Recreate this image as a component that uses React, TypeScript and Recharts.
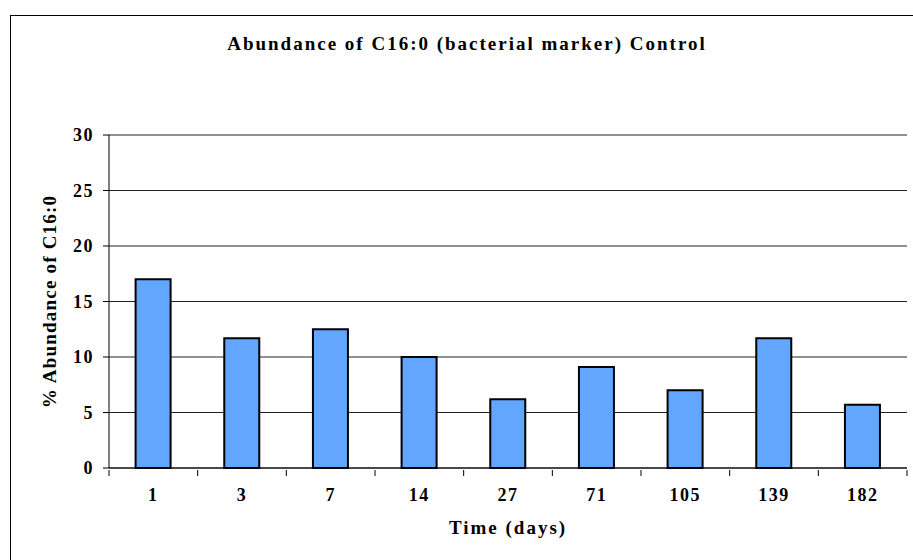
import { BarChart, Bar, XAxis, YAxis, CartesianGrid, Label } from "recharts"

const days = ["1", "3", "7", "14", "27", "71", "105", "139", "182"]
const abundance = [17.0, 11.7, 12.5, 10.0, 6.2, 9.1, 7.0, 11.7, 5.7]
const yTicks = [0, 5, 10, 15, 20, 25, 30]

const chartData = days.map((day, i) => ({ day, value: abundance[i] }))

const FONT = '"Liberation Serif", "Times New Roman", serif'
const BAND = 798 / days.length

function DayTick(props: any) {
  const { x, y, payload, index } = props
  const axisY = y - 18
  return (
    <g>
      <line x1={x - BAND / 2} x2={x - BAND / 2} y1={axisY} y2={axisY + 6} stroke="#000" />
      {index === days.length - 1 && (
        <line x1={x + BAND / 2} x2={x + BAND / 2} y1={axisY} y2={axisY + 6} stroke="#000" />
      )}
      <text
        x={x}
        y={y}
        dy="0.71em"
        textAnchor="middle"
        fontFamily={FONT}
        fontWeight="bold"
        fontSize={18}
        letterSpacing={1.5}
        fill="#000"
      >
        {payload.value}
      </text>
    </g>
  )
}

export default function App() {
  return (
    <div style={{ position: "absolute", left: 0, top: 0, width: 913, height: 560, background: "#fff", overflow: "hidden" }}>
      <div
        style={{
          position: "absolute",
          left: 10,
          top: 15,
          width: 920,
          height: 600,
          border: "1px solid #000",
        }}
      />
      <div
        style={{
          position: "absolute",
          left: 0,
          width: 934,
          top: 33,
          textAlign: "center",
          fontFamily: FONT,
          fontWeight: "bold",
          fontSize: 19,
          letterSpacing: 2,
        }}
      >
        Abundance of C16:0 (bacterial marker) Control
      </div>
      <div style={{ position: "absolute", left: 0, top: 0 }}>
        <BarChart
          width={913}
          height={560}
          data={chartData}
          margin={{ top: 135, right: 6, bottom: 0, left: 49 }}
          barCategoryGap="30%"
        >
          <CartesianGrid vertical={false} stroke="#222" yAxisId="left" />
          <XAxis
            dataKey="day"
            stroke="#000"
            tickLine={false}
            tickSize={18}
            tick={<DayTick />}
            height={92}
          >
            <Label
              value="Time (days)"
              position="insideTop"
              offset={53}
              fontFamily={FONT}
              fontWeight="bold"
              fontSize={19}
              letterSpacing={2}
              fill="#000"
            />
          </XAxis>
          <YAxis
            yAxisId="left"
            domain={[0, 30]}
            ticks={yTicks}
            width={60}
            stroke="#000"
            tickSize={6}
            tickMargin={9}
            interval={0}
            tick={{ fontFamily: FONT, fontWeight: "bold", fontSize: 18, fill: "#000", letterSpacing: 1.5 }}
          >
            <Label
              value="% Abundance of C16:0"
              angle={-90}
              position="center"
              dx={-30}
              fontFamily={FONT}
              fontWeight="bold"
              fontSize={19}
              letterSpacing={1.2}
              fill="#000"
            />
          </YAxis>
          <YAxis yAxisId="right" orientation="right" width={0} domain={[0, 30]} tick={false} tickLine={false} stroke="#888" />
          <Bar
            dataKey="value"
            yAxisId="left"
            fill="#63a6ff"
            stroke="#000"
            strokeWidth={2}
            isAnimationActive={false}
          />
        </BarChart>
      </div>
    </div>
  )
}
